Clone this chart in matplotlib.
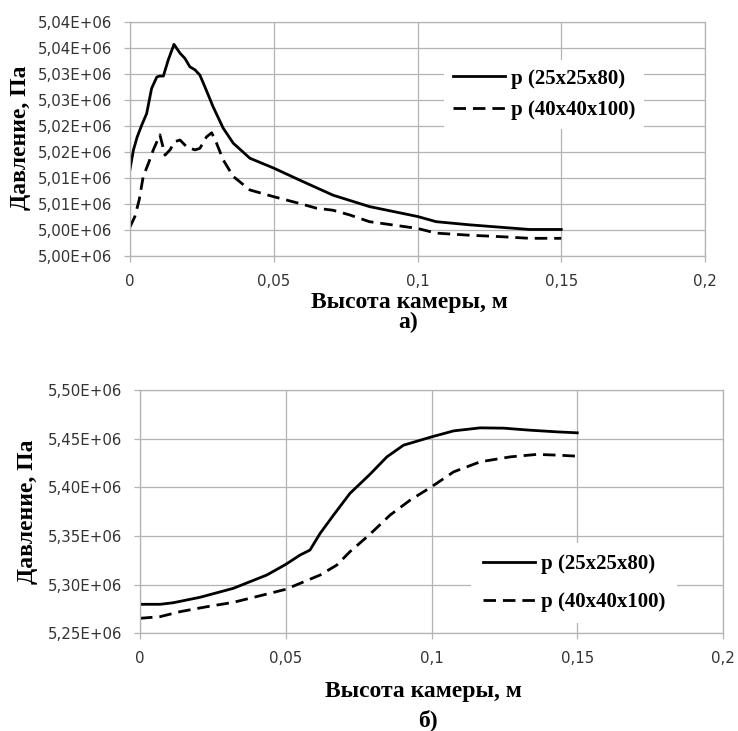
import matplotlib
matplotlib.use("Agg")
import matplotlib.pyplot as plt

# верхний график (а)
x_a1 = [0, 0.0012, 0.0025, 0.0041, 0.0058, 0.0075, 0.0093, 0.0102, 0.0116, 0.0133,
        0.0153, 0.0174, 0.0191, 0.0208, 0.0226, 0.0243, 0.026, 0.0289, 0.0324, 0.0359,
        0.0417, 0.05, 0.059, 0.0706, 0.0833, 0.1, 0.1065, 0.118, 0.1296, 0.139, 0.15]
p_a1 = [5016700, 5020400, 5022900, 5025200, 5027400, 5032200, 5034400, 5034600, 5034600, 5037700,
        5040700, 5039000, 5038000, 5036400, 5035800, 5034800, 5032600, 5028700, 5024600, 5021700,
        5018800, 5016900, 5014600, 5011700, 5009500, 5007600, 5006600, 5006000, 5005500, 5005100, 5005100]

x_a2 = [0, 0.0017, 0.0032, 0.0046, 0.0064, 0.0081, 0.0104, 0.0122, 0.0139, 0.0156,
        0.0174, 0.0197, 0.0226, 0.0243, 0.0266, 0.0284, 0.0301, 0.0324, 0.0359, 0.0417,
        0.05, 0.059, 0.0648, 0.0706, 0.0764, 0.0833, 0.1, 0.1065, 0.118, 0.1296, 0.139, 0.15]
p_a2 = [5005600, 5007600, 5010800, 5015300, 5017800, 5020400, 5023300, 5019400, 5020400, 5022000,
        5022300, 5021000, 5020400, 5020700, 5022900, 5023700, 5021700, 5018500, 5015300, 5012700,
        5011400, 5010100, 5009200, 5008800, 5007900, 5006600, 5005300, 5004400, 5004000, 5003700, 5003400, 5003400]

yticks_a = [5000000, 5005000, 5010000, 5015000, 5020000, 5025000, 5030000, 5035000, 5040000, 5045000]
ylabels_a = ["5,00E+06", "5,00E+06", "5,01E+06", "5,01E+06", "5,02E+06",
             "5,02E+06", "5,03E+06", "5,03E+06", "5,04E+06", "5,04E+06"]

# нижний график (б)
x_b1 = [0, 0.0069, 0.0114, 0.0206, 0.032, 0.0435, 0.05, 0.0549, 0.0583, 0.0618, 0.0664,
        0.072, 0.0789, 0.0847, 0.0904, 0.1, 0.1076, 0.1167, 0.1247, 0.1338, 0.143, 0.15]
p_b1 = [5279800, 5279800, 5281400, 5287000, 5296200, 5309900, 5320800, 5330400, 5335500, 5352700, 5371500,
        5393700, 5413400, 5431300, 5443300, 5451800, 5458000, 5461100, 5460800, 5458700, 5457000, 5456000]

x_b2 = [0, 0.0069, 0.0137, 0.0229, 0.032, 0.0435, 0.05, 0.0549, 0.0618, 0.0675, 0.072,
        0.0789, 0.0858, 0.0927, 0.1, 0.1076, 0.1167, 0.127, 0.1361, 0.143, 0.15]
p_b2 = [5265400, 5267100, 5272200, 5277300, 5281800, 5290300, 5295200, 5301300, 5309900, 5320100, 5333800,
        5351800, 5371500, 5386900, 5400500, 5415900, 5426200, 5431300, 5433800, 5433100, 5432000]

yticks_b = [5250000, 5300000, 5350000, 5400000, 5450000, 5500000]
ylabels_b = ["5,25E+06", "5,30E+06", "5,35E+06", "5,40E+06", "5,45E+06", "5,50E+06"]

xticks = [0, 0.05, 0.1, 0.15, 0.2]
xlabels = ["0", "0,05", "0,1", "0,15", "0,2"]

names = ["p (25x25x80)", "p (40x40x100)"]

serif = "Liberation Serif"
grid_c = "#b3b3b3"
tick_c = "#333333"


def oformit(ax, yticks, ylabels):
    ax.set_xlim(0, 0.2)
    ax.set_ylim(yticks[0], yticks[-1])
    ax.set_xticks(xticks)
    ax.set_xticklabels(xlabels)
    ax.set_yticks(yticks)
    ax.set_yticklabels(ylabels)
    ax.grid(True, color=grid_c, lw=0.9)
    ax.set_axisbelow(True)
    for s in ax.spines.values():
        s.set_color(grid_c)
        s.set_linewidth(0.9)
    ax.tick_params(colors=grid_c, labelcolor=tick_c, labelsize=10.8, length=4, width=0.9)
    ax.tick_params(axis="y", pad=9)
    ax.tick_params(axis="x", pad=9)


fig = plt.figure(figsize=(7.38, 7.31), dpi=100)

ax1 = fig.add_axes([130 / 738, 1 - 256 / 731, 575 / 738, 234 / 731])
ax1.plot(x_a1, p_a1, color="black", lw=2, label=names[0])
ax1.plot(x_a2, p_a2, color="black", lw=2, dashes=(4.5, 2.5), label=names[1])
oformit(ax1, yticks_a, ylabels_a)
leg1 = ax1.legend(loc="center", bbox_to_anchor=(544 / 738, 1 - 94.5 / 731),
                  bbox_transform=fig.transFigure, frameon=True, facecolor="white",
                  edgecolor="none", framealpha=1, fancybox=False,
                  prop={"family": serif, "weight": "bold", "size": 15},
                  handlelength=2.5, handletextpad=0.3, labelspacing=0.55, borderpad=0.4)

ax2 = fig.add_axes([140 / 738, 1 - 633.3 / 731, 583 / 738, 243.3 / 731])
ax2.plot(x_b1, p_b1, color="black", lw=2, label=names[0])
ax2.plot(x_b2, p_b2, color="black", lw=2, dashes=(4.5, 2.5), label=names[1])
oformit(ax2, yticks_b, ylabels_b)
leg2 = ax2.legend(loc="center", bbox_to_anchor=(574 / 738, 1 - 583 / 731),
                  bbox_transform=fig.transFigure, frameon=True, facecolor="white",
                  edgecolor="none", framealpha=1, fancybox=False,
                  prop={"family": serif, "weight": "bold", "size": 15},
                  handlelength=2.5, handletextpad=0.3, labelspacing=0.85, borderpad=0.55)

# подписи осей
lab = dict(family=serif, weight="bold", size=17, ha="center", va="center")
fig.text(409.5 / 738, 1 - 303 / 731, "Высота камеры, м", **lab)
fig.text(408 / 738, 1 - 322 / 731, "а)", **lab)
fig.text(21 / 738, 1 - 137.5 / 731, "Давление, Па", rotation=90, **lab)

fig.text(423.5 / 738, 1 - 692 / 731, "Высота камеры, м", **lab)
fig.text(428 / 738, 1 - 720 / 731, "б)", **lab)
fig.text(27 / 738, 1 - 511.5 / 731, "Давление, Па", rotation=90, **lab)

fig.savefig("out.png", dpi=100)
